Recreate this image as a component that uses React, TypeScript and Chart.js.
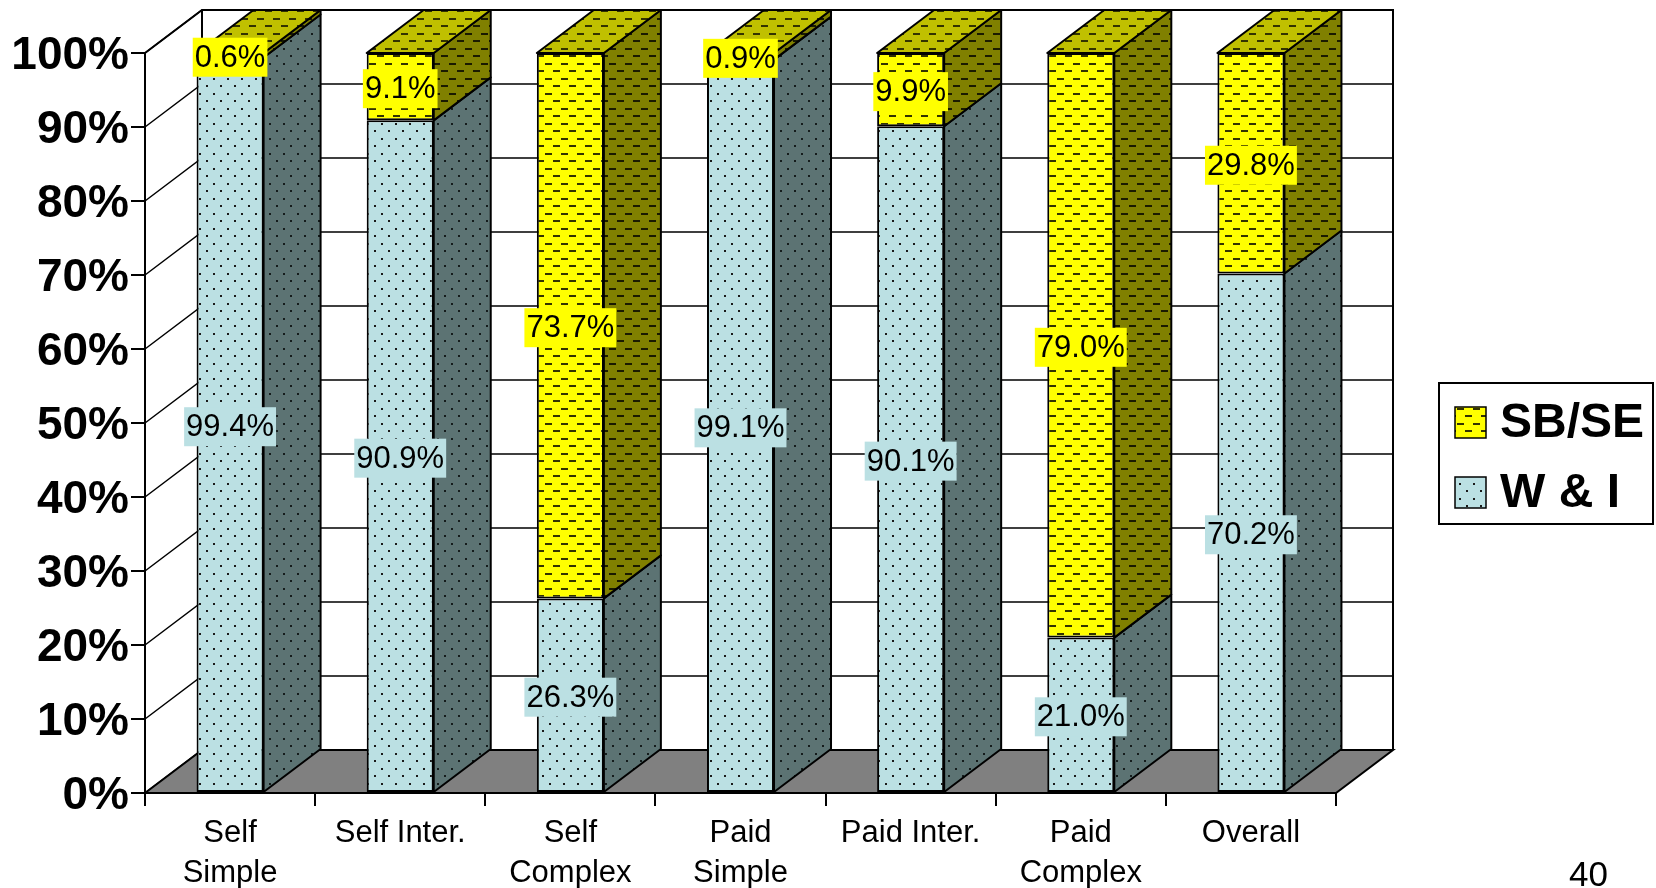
import React, { useEffect, useRef } from 'react';
import { Chart, registerables } from 'chart.js';

Chart.register(...registerables);

// ---- data ----
const categories: (string | string[])[] = [
  ['Self', 'Simple'],
  'Self Inter.',
  ['Self', 'Complex'],
  ['Paid', 'Simple'],
  'Paid Inter.',
  ['Paid', 'Complex'],
  'Overall',
];
const wiValues = [99.4, 90.9, 26.3, 99.1, 90.1, 21.0, 70.2];
const sbValues = [0.6, 9.1, 73.7, 0.9, 9.9, 79.0, 29.8];
const seriesLabels = ['W & I', 'SB/SE'];
const pageNumber = '40';

// ---- style ----
const FONT = "'Liberation Sans', Arial, Helvetica, sans-serif";
const DX = 57;
const DY = -43;
const FLOOR = '#808080';
const WI_FRONT = '#BBE0E3';
const WI_SIDE = '#5C7373';
const SB_FRONT = '#FFFF00';
const SB_SIDE = '#808000';
const SB_TOP = '#C0C000';

function dotPattern(ctx: CanvasRenderingContext2D, bg: string, fg: string) {
  const c = document.createElement('canvas');
  c.width = 14;
  c.height = 15;
  const g = c.getContext('2d')!;
  g.fillStyle = bg;
  g.fillRect(0, 0, 14, 15);
  g.fillStyle = fg;
  g.fillRect(3, 3, 2, 2);
  g.fillRect(10, 10, 2, 2);
  return ctx.createPattern(c, 'repeat')!;
}

function dashPattern(ctx: CanvasRenderingContext2D, bg: string, fg: string) {
  const c = document.createElement('canvas');
  c.width = 16;
  c.height = 15;
  const g = c.getContext('2d')!;
  g.fillStyle = bg;
  g.fillRect(0, 0, 16, 15);
  g.fillStyle = fg;
  g.fillRect(1, 3, 7, 2);
  g.fillRect(9, 10, 7, 2);
  return ctx.createPattern(c, 'repeat')!;
}

function poly(ctx: CanvasRenderingContext2D, pts: number[][], fill: any) {
  ctx.beginPath();
  ctx.moveTo(pts[0][0], pts[0][1]);
  for (let i = 1; i < pts.length; i++) ctx.lineTo(pts[i][0], pts[i][1]);
  ctx.closePath();
  ctx.fillStyle = fill;
  ctx.fill();
  ctx.stroke();
}

export default function App() {
  const ref = useRef<HTMLCanvasElement>(null);

  useEffect(() => {
    const canvas = ref.current!;
    const ctx = canvas.getContext('2d')!;

    const wiFront = dotPattern(ctx, WI_FRONT, '#1a1a1a');
    const wiSide = dotPattern(ctx, WI_SIDE, '#151c1c');
    const sbFront = dashPattern(ctx, SB_FRONT, '#333300');
    const sbSide = dashPattern(ctx, SB_SIDE, '#1a1a00');
    const sbTop = dashPattern(ctx, SB_TOP, '#333300');

    const faces = [
      { front: wiFront, side: wiSide, top: wiSide, labelBg: WI_FRONT },
      { front: sbFront, side: sbSide, top: sbTop, labelBg: SB_FRONT },
    ];

    const depthPlugin = {
      id: 'depth3d',
      beforeDatasetsDraw(chart: any) {
        const { ctx: c, chartArea, scales } = chart;
        const { left, right, top, bottom } = chartArea;
        const y = scales.y;
        c.save();
        c.strokeStyle = '#000';
        c.lineWidth = 1.5;
        y.ticks.forEach((t: any) => {
          const py = y.getPixelForValue(t.value);
          c.beginPath();
          c.moveTo(left, py);
          c.lineTo(left + DX, py + DY);
          c.lineTo(right + DX, py + DY);
          c.stroke();
        });
        c.lineWidth = 2;
        c.beginPath();
        c.moveTo(left, top);
        c.lineTo(left + DX, top + DY);
        c.lineTo(right + DX, top + DY);
        c.lineTo(right + DX, bottom + DY);
        c.moveTo(left + DX, top + DY);
        c.lineTo(left + DX, bottom + DY);
        c.stroke();
        poly(c, [[left, bottom], [right, bottom], [right + DX, bottom + DY], [left + DX, bottom + DY]], FLOOR);
        c.restore();
      },
      afterDatasetsDraw(chart: any) {
        const c: CanvasRenderingContext2D = chart.ctx;
        const n = chart.data.labels.length;
        const dsCount = chart.data.datasets.length;
        c.save();
        c.strokeStyle = '#000';
        c.lineWidth = 2;
        c.lineJoin = 'round';
        for (let i = 0; i < n; i++) {
          for (let d = 0; d < dsCount; d++) {
            const el = chart.getDatasetMeta(d).data[i];
            const xR = el.x + el.width / 2;
            const xL = el.x - el.width / 2;
            poly(c, [[xR, el.y], [xR + DX, el.y + DY], [xR + DX, el.base + DY], [xR, el.base]], faces[d].side);
            if (d === dsCount - 1) {
              poly(c, [[xL, el.y], [xL + DX, el.y + DY], [xR + DX, el.y + DY], [xR, el.y]], faces[d].top);
            }
          }
        }
        // data labels
        c.font = `31px ${FONT}`;
        c.textAlign = 'center';
        c.textBaseline = 'middle';
        for (let d = 0; d < dsCount; d++) {
          const meta = chart.getDatasetMeta(d);
          const vals = chart.data.datasets[d].data;
          meta.data.forEach((el: any, i: number) => {
            const txt = Number(vals[i]).toFixed(1) + '%';
            const cx = el.x;
            const cy = (el.y + el.base) / 2 + 2;
            const w = c.measureText(txt).width + 4;
            const h = 39;
            c.fillStyle = faces[d].labelBg;
            c.fillRect(cx - w / 2, cy - h / 2, w, h);
            c.fillStyle = '#000';
            c.fillText(txt, cx, cy + 1);
          });
        }
        c.restore();
      },
      afterDraw(chart: any) {
        const c: CanvasRenderingContext2D = chart.ctx;
        c.save();
        const bx = 1439, by = 383, bw = 214, bh = 141;
        c.fillStyle = '#fff';
        c.fillRect(bx, by, bw, bh);
        c.strokeStyle = '#000';
        c.lineWidth = 2;
        c.strokeRect(bx, by, bw, bh);
        const order = chart.data.datasets.map((_: any, i: number) => i).reverse();
        c.font = `bold 48px ${FONT}`;
        c.textAlign = 'left';
        c.textBaseline = 'middle';
        order.forEach((d: number, k: number) => {
          const sy = 407 + k * 70;
          c.fillStyle = faces[d].front;
          c.fillRect(1455, sy, 31, 31);
          c.lineWidth = 1.5;
          c.strokeRect(1455, sy, 31, 31);
          c.fillStyle = '#000';
          c.fillText(chart.data.datasets[d].label, 1500, sy + 17);
        });
        c.restore();
      },
    };

    const chart = new Chart(canvas, {
      type: 'bar',
      data: {
        labels: categories,
        datasets: [
          {
            label: seriesLabels[0],
            data: wiValues,
            backgroundColor: wiFront,
            borderColor: '#000',
            borderWidth: 2,
            borderSkipped: false,
            clip: false as any,
            stack: 's',
          },
          {
            label: seriesLabels[1],
            data: sbValues,
            backgroundColor: sbFront,
            borderColor: '#000',
            borderWidth: 2,
            borderSkipped: false,
            clip: false as any,
            stack: 's',
          },
        ],
      },
      options: {
        responsive: false,
        animation: false,
        devicePixelRatio: 1,
        layout: { padding: { top: 53, right: 320, bottom: 0, left: 0 } },
        datasets: { bar: { categoryPercentage: 1, barPercentage: 0.394 } },
        plugins: {
          legend: { display: false },
          tooltip: { enabled: false },
        },
        scales: {
          x: {
            stacked: true,
            afterFit: (s: any) => { s.height = 95; },
            border: { display: true, color: '#000', width: 2 },
            grid: { drawOnChartArea: false, drawTicks: true, tickLength: 13, color: '#000', lineWidth: 2, offset: true },
            ticks: {
              color: '#000',
              padding: 7,
              maxRotation: 0,
              autoSkip: false,
              font: { family: FONT, size: 31, lineHeight: 1.3 },
            },
          },
          y: {
            stacked: true,
            min: 0,
            max: 100,
            afterFit: (s: any) => { s.width = 145; },
            border: { display: true, color: '#000', width: 2 },
            grid: { drawOnChartArea: false, drawTicks: true, tickLength: 14, color: '#000', lineWidth: 2 },
            ticks: {
              stepSize: 10,
              color: '#000',
              padding: 2,
              labelOffset: 3,
              font: { family: FONT, size: 46, weight: 'bold' },
              callback: (v: any) => v + '%',
            },
          },
        },
      } as any,
      plugins: [depthPlugin],
    });

    return () => chart.destroy();
  }, []);

  return (
    <div style={{ position: 'fixed', left: 0, top: 0, width: 1656, height: 888, background: '#fff', overflow: 'hidden' }}>
      <canvas ref={ref} width={1656} height={888} style={{ display: 'block' }} />
      <div
        style={{
          position: 'absolute',
          left: 1569,
          top: 856,
          fontFamily: FONT,
          fontSize: 35,
          lineHeight: 1,
          color: '#000',
        }}
      >
        {pageNumber}
      </div>
    </div>
  );
}
